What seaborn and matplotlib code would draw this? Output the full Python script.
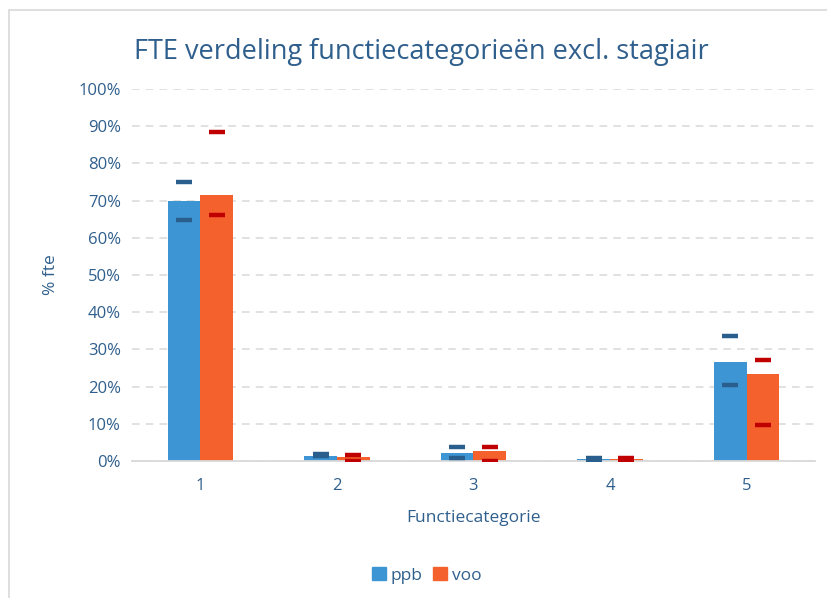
import pandas as pd
import matplotlib.pyplot as plt
import matplotlib.patches as mpatches
import seaborn as sns
from matplotlib.ticker import PercentFormatter

# Data
categories = ["1", "2", "3", "4", "5"]
ppb = [70.0, 1.3, 2.1, 0.6, 26.6]
voo = [71.5, 1.0, 2.7, 0.6, 23.3]
ppb_high = [75.0, 1.9, 3.7, 0.9, 33.6]
ppb_low = [64.8, 1.4, 0.9, 0.0, 20.4]
voo_high = [88.4, 1.6, 3.7, 0.9, 27.1]
voo_low = [66.1, 0.1, 0.1, 0.0, 9.7]
series = ["ppb", "voo"]

text_col = "#2F5F8C"
bar_cols = {"ppb": "#3E95D4", "voo": "#F4612D"}
mark_cols = {"ppb": "#2A5E8C", "voo": "#C00000"}

df = pd.DataFrame({
    "Functiecategorie": categories * 2,
    "fte": ppb + voo,
    "serie": ["ppb"] * len(categories) + ["voo"] * len(categories),
})

sns.set_style("white")
plt.rcParams["font.family"] = ["Open Sans", "DejaVu Sans"]

fig = plt.figure(figsize=(8.27, 5.98), dpi=100)
ax = fig.add_axes([0.1596, 0.2291, 0.8259, 0.6221])

sns.barplot(
    data=df, x="Functiecategorie", y="fte", hue="serie",
    palette=bar_cols, width=0.48, saturation=1, ax=ax, legend=False,
    edgecolor="none",
)

# high/low markers on top of each bar
for i, s in enumerate(series):
    highs = ppb_high if s == "ppb" else voo_high
    lows = ppb_low if s == "ppb" else voo_low
    bars = ax.patches[i * len(categories):(i + 1) * len(categories)]
    xs = [b.get_x() + b.get_width() / 2 for b in bars]
    ax.plot(xs, highs, ls="none", marker="_", ms=12, mew=3.2,
            color=mark_cols[s], zorder=4)
    ax.plot(xs, lows, ls="none", marker="_", ms=12, mew=3.2,
            color=mark_cols[s], zorder=4)

ax.set_ylim(0, 100)
ax.set_xlim(-0.5, 4.5)
ax.set_yticks(range(0, 101, 10))
ax.yaxis.set_major_formatter(PercentFormatter(decimals=0))
ax.grid(axis="y", color="#D9D9D9", ls=(0, (5, 4)), lw=1.1)
ax.set_axisbelow(True)
for side in ["top", "right", "left"]:
    ax.spines[side].set_visible(False)
ax.spines["bottom"].set_color("#D9D9D9")
ax.spines["bottom"].set_linewidth(1.3)
ax.tick_params(axis="both", length=0, labelsize=12, labelcolor=text_col, pad=8)
ax.tick_params(axis="x", pad=12)

ax.set_xlabel("Functiecategorie", fontsize=12.5, color=text_col, labelpad=12)
ax.set_ylabel("% fte", fontsize=12.5, color=text_col, labelpad=14)
fig.suptitle("FTE verdeling functiecategorieën excl. stagiair",
             x=0.51, y=0.937, fontsize=19.5, color=text_col)

handles = [mpatches.Patch(color=bar_cols[s], label=s) for s in series]
fig.legend(handles=handles, loc="center", bbox_to_anchor=(0.516, 0.038), ncol=2,
           frameon=False, fontsize=12.5, labelcolor=text_col,
           handlelength=0.8, handleheight=0.8, handletextpad=0.3,
           columnspacing=0.6)

# chart frame
fig.patches.append(mpatches.Rectangle((0.011, -0.1), 1.1, 1.083,
                                      transform=fig.transFigure, fill=False,
                                      edgecolor="#D9D9D9", lw=1.2))

plt.savefig("out.png", dpi=100)
